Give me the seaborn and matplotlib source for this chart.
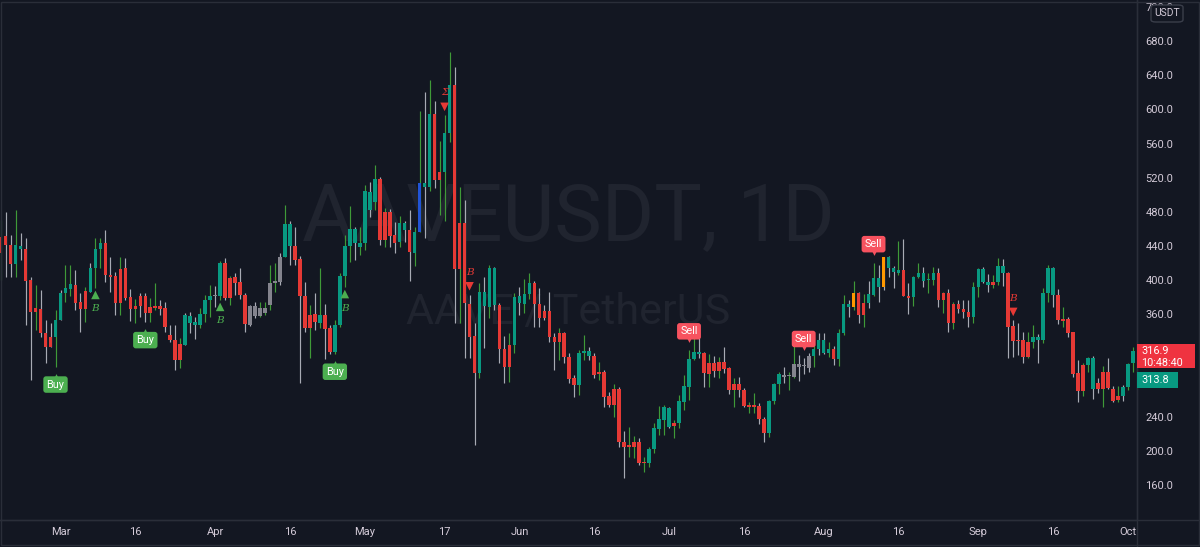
import numpy as np
import pandas as pd
import matplotlib
matplotlib.use('Agg')
import matplotlib.pyplot as plt
from matplotlib.lines import Line2D
from matplotlib.patches import Rectangle, FancyBboxPatch
import seaborn as sns

# daily candles from 2021-02-17
opens = [451, 452, 441, 419, 437, 437, 400, 368, 366, 338, 333, 333, 353, 385, 390, 395, 375, 387, 386, 414,
         437, 444, 406, 405, 413, 414, 380, 370, 382, 382, 369, 370, 370, 368, 336, 330, 325, 324, 350, 348,
         348, 361, 377, 381, 382, 420, 403, 404, 398, 383, 370, 358, 367, 362, 371, 397, 398, 427, 440, 440,
         425, 381, 359, 361, 350, 359, 344, 316, 348, 405, 440, 444, 439, 444, 482, 492, 519, 480, 480, 453,
         445, 459, 459, 432, 457, 509, 509, 595, 527, 527, 572, 629, 467, 467, 372, 335, 292, 370, 369, 371,
         371, 320, 324, 324, 373, 372, 384, 397, 372, 364, 364, 334, 338, 338, 310, 286, 277, 315, 311, 311,
         293, 293, 265, 273, 273, 211, 207, 211, 211, 187, 186, 203, 226, 237, 228, 233, 233, 258, 275, 308,
         314, 315, 303, 303, 304, 304, 297, 279, 279, 272, 254, 254, 253, 238, 221, 259, 279, 289, 288, 287,
         298, 300, 297, 311, 320, 315, 315, 320, 308, 338, 369, 369, 385, 373, 373, 383, 392, 392, 414, 410,
         409, 412, 382, 380, 404, 399, 400, 400, 409, 385, 385, 372, 372, 366, 363, 357, 392, 398, 395, 398,
         398, 409, 409, 346, 330, 330, 328, 328, 330, 330, 385, 383, 383, 355, 355, 340, 291, 301, 301, 273,
         280, 293, 293, 273, 265, 264, 275, 303]
highs = [471, 480, 453, 482, 455, 449, 404, 394, 389, 353, 350, 365, 389, 418, 418, 412, 385, 392, 420, 449,
         449, 459, 427, 410, 427, 426, 390, 378, 385, 385, 379, 397, 377, 375, 348, 348, 332, 362, 363, 357,
         368, 383, 394, 393, 423, 426, 405, 408, 414, 385, 371, 375, 375, 375, 418, 420, 432, 488, 469, 462,
         428, 398, 371, 385, 414, 372, 348, 353, 408, 453, 487, 462, 462, 512, 515, 535, 521, 485, 483, 468,
         475, 469, 482, 462, 598, 620, 634, 610, 563, 593, 667, 650, 509, 494, 383, 350, 397, 404, 418, 416,
         373, 335, 338, 385, 392, 401, 409, 399, 391, 371, 386, 338, 344, 340, 315, 289, 318, 336, 322, 315,
         304, 295, 269, 278, 275, 223, 228, 218, 215, 193, 205, 233, 253, 254, 252, 236, 266, 289, 318, 345,
         332, 316, 314, 311, 310, 322, 299, 286, 287, 274, 258, 268, 256, 240, 260, 280, 293, 299, 293, 335,
         312, 309, 315, 324, 338, 338, 328, 323, 343, 383, 377, 399, 386, 384, 399, 420, 418, 427, 428, 417,
         446, 448, 397, 405, 420, 416, 409, 416, 414, 386, 390, 375, 377, 377, 377, 398, 414, 416, 407, 406,
         426, 425, 410, 353, 350, 339, 339, 348, 337, 391, 418, 416, 390, 369, 357, 340, 307, 303, 310, 311,
         286, 300, 309, 276, 276, 277, 303, 322]
lows = [400, 404, 404, 404, 424, 348, 283, 342, 334, 303, 322, 299, 353, 375, 381, 365, 340, 351, 386, 391,
        414, 398, 386, 359, 359, 377, 352, 350, 357, 351, 351, 365, 359, 340, 328, 295, 297, 324, 338, 331,
        344, 351, 357, 369, 377, 377, 371, 383, 378, 340, 346, 356, 357, 359, 365, 386, 395, 427, 418, 418,
        280, 340, 309, 342, 344, 308, 314, 314, 345, 392, 421, 424, 430, 435, 474, 482, 441, 439, 439, 432,
        439, 445, 399, 417, 457, 449, 504, 508, 476, 469, 562, 350, 350, 309, 309, 207, 286, 321, 356, 365,
        303, 280, 281, 315, 359, 362, 378, 345, 345, 354, 328, 295, 307, 303, 280, 263, 266, 307, 307, 286,
        283, 252, 252, 240, 205, 169, 193, 192, 184, 175, 182, 198, 219, 219, 227, 215, 227, 248, 260, 307,
        309, 275, 275, 287, 286, 292, 267, 252, 263, 252, 245, 245, 232, 211, 217, 255, 267, 280, 271, 286,
        282, 290, 293, 299, 313, 314, 310, 301, 300, 336, 357, 365, 350, 345, 368, 382, 375, 389, 404, 391,
        406, 381, 361, 370, 403, 392, 385, 394, 369, 362, 340, 343, 362, 356, 345, 350, 380, 397, 386, 391,
        395, 393, 309, 310, 313, 303, 309, 321, 303, 327, 375, 369, 349, 345, 334, 287, 258, 265, 293, 261,
        268, 252, 273, 258, 258, 259, 271, 293]
closes = [432, 441, 419, 441, 440, 399, 363, 363, 338, 322, 322, 353, 385, 391, 396, 373, 366, 366, 414, 437,
          444, 406, 404, 373, 373, 379, 366, 366, 370, 362, 362, 368, 366, 345, 330, 307, 307, 359, 358, 351,
          361, 377, 382, 383, 420, 379, 379, 397, 383, 349, 348, 370, 358, 367, 397, 399, 427, 466, 466, 424,
          381, 344, 344, 351, 359, 343, 316, 348, 405, 440, 460, 460, 444, 505, 503, 519, 447, 447, 452, 444,
          467, 467, 433, 457, 514, 514, 595, 517, 517, 572, 629, 413, 413, 373, 334, 292, 386, 386, 414, 414,
          320, 298, 298, 380, 382, 384, 397, 372, 356, 356, 334, 328, 328, 310, 284, 277, 315, 317, 317, 289,
          290, 263, 254, 254, 211, 205, 205, 205, 186, 186, 203, 227, 238, 252, 251, 230, 259, 276, 308, 316,
          316, 292, 290, 294, 294, 296, 272, 271, 272, 253, 252, 252, 238, 221, 259, 279, 290, 287, 289, 302,
          302, 301, 311, 320, 330, 330, 320, 308, 338, 372, 372, 385, 359, 359, 384, 403, 403, 427, 427, 414,
          412, 381, 379, 404, 409, 409, 401, 409, 377, 377, 350, 350, 366, 363, 357, 392, 413, 413, 398, 395,
          417, 417, 345, 329, 329, 310, 310, 334, 334, 385, 414, 414, 354, 352, 338, 290, 270, 270, 309, 309,
          273, 273, 274, 259, 260, 275, 302, 316.9]
# bar colouring of the script: u up, d down, n neutral, b blue, o orange (10 bars per chunk)
bar_codes = ''.join([
    'ddduuddddd', 'duuuuddduu', 'uddddddddd', 'ddddddduuu', 'uuunuddddd',
    'nnnnnnnuud', 'ddddudduuu', 'uuuuuudddd', 'uudubuuddu', 'uddddduuuu',
    'ddduuuuddd', 'dddddduuud', 'dddddddddd', 'uuuuuduuuu', 'uddddddddd',
    'dddduuunnn', 'nnnuuuuduu', 'uodduuuouu', 'udduuuuudd', 'ddddduuuud',
    'uuddddduuu', 'uudddddduu', 'ddddduuu'])
# wick colouring: g green, n grey (10 bars per chunk)
wick_codes = ''.join([
    'gnngnnngnn', 'ngnggnngng', 'gnnngnngnn', 'ggnnnngnnn', 'gggngngnnn',
    'nnggggngnn', 'nngngnnggg', 'gnggngngnn', 'gnnggngngg', 'gngnnngngn',
    'nnggnggnnn', 'nngnnnggnn', 'gnngnnggng', 'ggggnggggg', 'nngngnngnn',
    'ggnngggngg', 'nnngnngngg', 'ngngngnnnn', 'gnnggnggng', 'ngnnnggnng',
    'gnnnnnggng', 'gnngnnnggn', 'ngnngngg'])
buy_idx = [11, 29, 67]
sell_idx = [138, 161, 175]
b_up_idx = [19, 44, 69]
b_down_idx = [94, 203]
sigma_idx = [89]
start_date = '2021-02-17'
tick_dates = ['2021-03-01', '2021-03-16', '2021-04-01', '2021-04-16', '2021-05-01', '2021-05-17',
              '2021-06-01', '2021-06-16', '2021-07-01', '2021-07-16', '2021-08-01', '2021-08-16',
              '2021-09-01', '2021-09-16', '2021-10-01']
price_ticks = [160, 200, 240, 280, 320, 360, 400, 440, 480, 520, 560, 600, 640, 680, 720]
last_price = 316.9
countdown = '10:48:40'
second_price = 313.8

BG = '#131722'
TEAL = '#089981'
RED = '#e53935'
GREY_BODY = '#84848e'
BLUE = '#2154d6'
ORANGE = '#ff9800'
WICK_G = '#3f9a38'
WICK_N = '#a8abb4'
SIG_G = '#4caf50'
SIG_R = '#f7525f'
TXT = '#d4cbd8'
LINE = '#2a2e39'

sns.set_theme(style='dark', rc={'axes.facecolor': BG, 'figure.facecolor': BG,
                                'axes.edgecolor': LINE, 'axes.grid': False})
plt.rcParams['font.family'] = ['Roboto', 'DejaVu Sans']

n = len(opens)
o = np.array(opens, float)
h = np.array(highs, float)
l = np.array(lows, float)
c = np.array(closes, float)
x = np.arange(n)
body_codes = (bar_codes + 'u' * n)[:n]
wcodes = (wick_codes + 'n' * n)[:n]

fig = plt.figure(figsize=(12, 5.47), dpi=100)
ax = fig.add_axes([0, 27 / 547, 1137 / 1200, 520 / 547])
YMIN, YMAX = 119.4, 728.0
ax.set_ylim(YMIN, YMAX)
upp = (YMAX - YMIN) / 520.0  # price units per pixel

# watermark
ax.text(0.5, 0.5385, 'AAVEUSDT, 1D', transform=ax.transAxes, ha='center', va='baseline',
        fontsize=57.5, color='#20242f', family='Roboto', zorder=0)
ax.text(0.5, 0.377, 'AAVE / TetherUS', transform=ax.transAxes, ha='center', va='baseline',
        fontsize=31, color='#20242f', family='Roboto', zorder=0)

body_map = {'u': TEAL, 'd': RED, 'n': GREY_BODY, 'b': BLUE, 'o': ORANGE}
wick_map = {'g': WICK_G, 'n': WICK_N}
ax.vlines(x, l, h, colors=[wick_map[k] for k in wcodes], linewidth=0.85, zorder=2)
bottom = np.minimum(o, c)
height = np.maximum(np.abs(c - o), 1.3)
ax.bar(x, height, bottom=bottom, width=0.72, color=[body_map[k] for k in body_codes],
       linewidth=0, zorder=3)

# B markers (triangles) with seaborn
up_df = pd.DataFrame({'x': b_up_idx, 'y': l[b_up_idx] - 7 * upp})
dn_df = pd.DataFrame({'x': b_down_idx + sigma_idx, 'y': h[b_down_idx + sigma_idx] + 8.5 * upp})
sns.scatterplot(data=up_df, x='x', y='y', marker='^', s=38, color=SIG_G, edgecolor='none',
                ax=ax, zorder=5, legend=False)
sns.scatterplot(data=dn_df, x='x', y='y', marker='v', s=38, color=RED, edgecolor='none',
                ax=ax, zorder=5, legend=False)
for i in b_up_idx:
    ax.text(i, l[i] - 21 * upp, 'B', ha='center', va='center', fontsize=7.5, color=SIG_G,
            family='DejaVu Serif', style='italic', zorder=5)
for i in b_down_idx:
    ax.text(i, h[i] + 22 * upp, 'B', ha='center', va='center', fontsize=7.5, color=RED,
            family='DejaVu Serif', style='italic', zorder=5)
for i in sigma_idx:
    ax.text(i, h[i] + 23 * upp, 'Σ', ha='center', va='center', fontsize=7.5, color=RED,
            family='DejaVu Serif', style='italic', zorder=5)

# Buy / Sell labels
for i in buy_idx:
    yc = l[i] - 18 * upp
    ax.text(i, yc, 'Buy', ha='center', va='center', fontsize=7.8, color='white', zorder=7,
            bbox=dict(boxstyle='round,pad=0.3,rounding_size=0.25', fc=SIG_G, ec='none'))
    ax.scatter([i], [yc + 9 * upp], marker='^', s=12, color=SIG_G, linewidths=0, zorder=7)
for i in sell_idx:
    yc = h[i] + 19 * upp
    ax.text(i, yc, 'Sell', ha='center', va='center', fontsize=7.8, color='white', zorder=7,
            bbox=dict(boxstyle='round,pad=0.3,rounding_size=0.25', fc=SIG_R, ec='none'))
    ax.scatter([i], [yc - 9 * upp], marker='v', s=12, color=SIG_R, linewidths=0, zorder=7)

ax.set_xlabel('')
ax.set_ylabel('')
ax.set_xlim(-0.13, -0.13 + 1137 / 4.988)
ax.set_ylim(YMIN, YMAX)

# date axis
dates = pd.date_range(start_date, periods=n, freq='D')
tpos = dates.get_indexer(pd.to_datetime(tick_dates))
tlabels = [d.strftime('%b') if d.day == 1 else str(d.day) for d in pd.to_datetime(tick_dates)]
ax.set_xticks(tpos)
ax.set_xticklabels(tlabels)

# price scale, the labels under the price tags are hidden like on the original
tag_top = last_price + 12 * upp
tag_bot = last_price - 42 * upp
shown = [p for p in price_ticks if not (tag_bot < p < tag_top)]
ax.set_yticks(shown)
ax.set_yticklabels([f'{p:.1f}' for p in shown])
ax.yaxis.tick_right()
ax.tick_params(axis='y', length=0, pad=6, labelsize=8, labelcolor=TXT)
ax.tick_params(axis='x', length=0, pad=5, labelsize=8, labelcolor=TXT)
for s in ['left', 'top']:
    ax.spines[s].set_visible(False)
for s in ['bottom', 'right']:
    ax.spines[s].set_color(LINE)
    ax.spines[s].set_linewidth(1)

fig.add_artist(Line2D([0, 1], [27 / 547, 27 / 547], color=LINE, lw=1, transform=fig.transFigure))
fig.add_artist(Line2D([1137 / 1200, 1137 / 1200], [0, 1], color=LINE, lw=1, transform=fig.transFigure))
fig.add_artist(Rectangle((0.0008, 0.003), 0.9984, 0.994, fill=False, ec=LINE, lw=1,
                         transform=fig.transFigure))

# price tags on the scale
ylast = ax.transData.transform((0, last_price))[1]
W, H = 1200.0, 547.0
fig.add_artist(Rectangle((1137 / W, (ylast - 17) / H), 58 / W, 24 / H, fc='#ef3340', ec='none',
                         transform=fig.transFigure, zorder=10))
fig.text(1141 / W, ylast / H, f'{last_price:.1f}', ha='left', va='center', fontsize=7.8,
         color='white', zorder=11)
fig.text(1141 / W, (ylast - 11.5) / H, countdown, ha='left', va='center', fontsize=7.8,
         color='white', zorder=11)
fig.add_artist(Rectangle((1137 / W, (ylast - 37) / H), 41 / W, 16 / H, fc=TEAL, ec='none',
                         transform=fig.transFigure, zorder=10))
fig.text(1141 / W, (ylast - 29) / H, f'{second_price:.1f}', ha='left', va='center', fontsize=7.8,
         color='white', zorder=11)

# currency box
fig.add_artist(FancyBboxPatch((1151 / W, (H - 22) / H), 32 / W, 17 / H,
                              boxstyle='round,pad=0,rounding_size=0.004', fc=BG, ec='#3a3e4a',
                              lw=1, transform=fig.transFigure, zorder=10))
fig.text(1167 / W, (H - 13.5) / H, 'USDT', ha='center', va='center', fontsize=7.4, color=TXT, zorder=11)

fig.savefig('out.png', dpi=100, facecolor=BG)
